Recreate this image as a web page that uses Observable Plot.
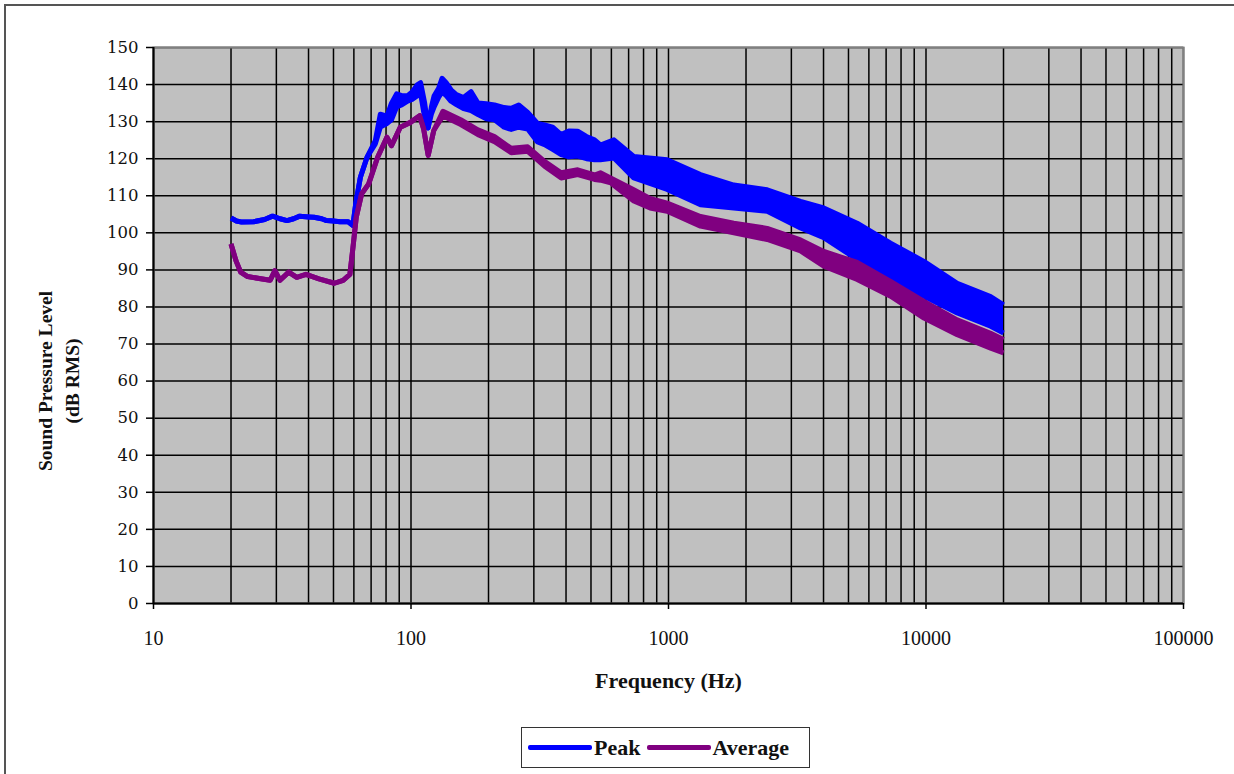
<!DOCTYPE html>
<html>
<head>
<meta charset="utf-8">
<script src="https://cdn.jsdelivr.net/npm/d3@7"></script>
<script src="https://cdn.jsdelivr.net/npm/@observablehq/plot@0.6"></script>
<style>
  html, body { margin: 0; padding: 0; background: #fff; overflow: hidden; }
  #wrap { position: relative; width: 1234px; height: 774px; }
  #border { position: absolute; left: 4px; top: 4px; width: 1400px; height: 900px; border-left: 2px solid #555; border-top: 2px solid #555; box-sizing: border-box; }
  #chart { position: absolute; left: 0; top: 0; }
  #ytitle { position: absolute; left: 59px; top: 381px; transform: translate(-50%, -50%) rotate(-90deg);
            white-space: nowrap; text-align: center; line-height: 27px; font-family: "Liberation Serif", serif; font-weight: bold; font-size: 19.5px; color: #111; }
  #legend { position: absolute; left: 521px; top: 727px; width: 289px; height: 41px; border: 1.5px solid #333; box-sizing: border-box; background: #fff;
            display: flex; align-items: center; font-family: "Liberation Serif", serif; font-weight: bold; font-size: 22px; color: #111; }
  .sw { display: inline-block; height: 5px; border-radius: 2px; }
</style>
</head>
<body>
<div id="wrap">
  <div id="border"></div>
  <div id="chart"></div>
  <div id="ytitle">Sound Pressure Level<br>(dB RMS)</div>
  <div id="legend">
    <span class="sw" style="width:64px;background:#0000FF;margin-left:6px"></span><span style="margin-left:2px">Peak</span>
    <span class="sw" style="width:64px;background:#800080;margin-left:7px"></span><span style="margin-left:1px">Average</span>
  </div>
</div>
<script>
// ---- Data ----
const peakFreq = [20, 21, 22, 24.5, 27, 29, 31, 33, 35, 37, 40, 42, 45, 47, 50, 53, 57, 59.5, 61, 63.6, 67.5, 72.7, 76, 80.6, 84, 88, 92, 97, 101, 106, 109, 113, 116.5, 120, 123, 128, 132, 137, 143, 150, 160, 171, 182, 196, 211, 230, 245, 262, 284, 310, 330, 355, 383, 410, 444, 480, 516, 544, 614, 733, 988, 1331, 1793, 2417, 3256, 4009, 5404, 7285, 9820, 13220, 17820, 20000];
const peakHigh = [104.0, 103.2, 102.9, 103.0, 103.6, 104.5, 103.8, 103.3, 103.8, 104.5, 104.3, 104.2, 103.8, 103.3, 103.2, 103.0, 103.0, 102.0, 107.8, 115.0, 120.4, 124.9, 132.0, 131.5, 135.0, 137.5, 137.0, 137.0, 138.0, 140.0, 140.5, 135.0, 128.3, 134.0, 137.0, 139.0, 141.7, 140.5, 138.6, 137.3, 136.5, 138.1, 135.0, 134.8, 134.5, 133.8, 133.6, 134.5, 132.5, 129.5, 129.1, 128.5, 126.5, 127.5, 127.4, 126.0, 125.1, 123.7, 125.1, 120.6, 119.7, 115.7, 112.9, 111.6, 108.5, 106.7, 102.6, 97.2, 92.3, 86.4, 82.8, 80.6];
const peakLow  = [104.0, 103.2, 102.9, 103.0, 103.6, 104.5, 103.8, 103.3, 103.8, 104.5, 104.3, 104.2, 103.8, 103.3, 103.2, 103.0, 103.0, 102.0, 107.8, 115.0, 120.4, 124.0, 128.5, 129.5, 130.5, 134.0, 134.5, 135.5, 136.0, 137.0, 137.5, 131.0, 128.3, 132.0, 134.0, 136.5, 138.0, 137.0, 135.5, 134.6, 133.5, 133.0, 131.9, 130.8, 130.5, 128.5, 127.9, 128.5, 128.0, 124.5, 123.8, 122.5, 121.1, 120.5, 120.7, 120.0, 119.7, 119.7, 120.2, 114.8, 111.7, 107.6, 106.7, 105.8, 101.3, 98.7, 92.8, 87.4, 82.9, 78.4, 74.8, 73.0];

const avgFreq = [20, 20.9, 21.8, 23.2, 26.1, 28.4, 29.6, 31, 33.5, 36, 39.1, 43.9, 50.4, 54.5, 57.9, 59.5, 61.3, 64.3, 68.5, 74.2, 80.6, 84, 90.9, 99.5, 108, 112, 116.6, 122.6, 133, 156, 182, 211, 245, 284, 330, 383, 444, 516, 544, 596, 733, 848, 988, 1331, 1793, 2417, 3256, 4009, 5404, 7285, 9820, 13220, 17820, 20000];
const avgHigh = [97.0, 92.5, 89.4, 88.2, 87.6, 87.2, 89.8, 87.2, 89.4, 88.0, 88.8, 87.6, 86.4, 87.2, 88.8, 96.0, 104.2, 110.5, 113.2, 120.4, 125.8, 123.5, 128.5, 129.8, 131.6, 128.0, 120.9, 127.6, 132.8, 130.5, 127.8, 126.0, 122.8, 123.2, 119.3, 116.2, 117.0, 115.6, 116.2, 114.8, 111.6, 109.3, 108.0, 104.4, 102.6, 101.2, 98.1, 95.0, 92.0, 86.9, 81.5, 76.5, 72.9, 71.2];
const avgLow  = [97.0, 92.5, 89.4, 88.2, 87.6, 87.2, 89.8, 87.2, 89.4, 88.0, 88.8, 87.6, 86.4, 87.2, 88.8, 96.0, 104.2, 110.5, 113.2, 120.4, 125.8, 123.5, 128.5, 129.8, 131.6, 128.0, 120.9, 127.6, 131.5, 129.2, 126.5, 124.6, 121.6, 122.0, 118.0, 114.8, 115.7, 114.4, 114.2, 113.5, 108.6, 106.7, 105.8, 101.8, 100.0, 98.2, 95.1, 91.0, 87.4, 82.9, 77.0, 72.5, 68.9, 67.6];

const xTickLabels = [10, 100, 1000, 10000, 100000];
const yTickLabels = [0, 10, 20, 30, 40, 50, 60, 70, 80, 90, 100, 110, 120, 130, 140, 150];
const xGridMultipliers = [1, 2, 3, 4, 5, 6, 7, 8, 9];

// ---- Build tables ----
const peak = peakFreq.map((f, i) => ({f, hi: peakHigh[i], lo: peakLow[i]}));
const avg = avgFreq.map((f, i) => ({f, hi: avgHigh[i], lo: avgLow[i]}));
const xGrid = [];
for (const d of xTickLabels.slice(0, -1)) for (const m of xGridMultipliers) xGrid.push(d * m);
xGrid.push(100000);

const BLUE = "#0000FF", PURPLE = "#800080";
const lineOpts = {strokeWidth: 5, strokeLinejoin: "round", strokeLinecap: "butt"};

const chart = Plot.plot({
  width: 1234,
  height: 724,
  marginTop: 47,
  marginLeft: 153,
  marginRight: 51,
  marginBottom: 121,
  style: {background: "transparent", overflow: "visible"},
  x: {type: "log", domain: [10, 100000]},
  y: {domain: [0, 150]},
  marks: [
    Plot.frame({fill: "#C0C0C0"}),
    Plot.ruleX(xGrid, {stroke: "#000", strokeWidth: 1.5}),
    Plot.ruleY(yTickLabels, {stroke: "#000", strokeWidth: 1.5}),
    // Peak
    Plot.areaY(peak, {x: "f", y1: "lo", y2: "hi", fill: BLUE}),
    Plot.line(peak, {x: "f", y: "hi", stroke: BLUE, ...lineOpts}),
    Plot.line(peak, {x: "f", y: "lo", stroke: BLUE, ...lineOpts}),
    // Average
    Plot.areaY(avg, {x: "f", y1: "lo", y2: "hi", fill: PURPLE}),
    Plot.line(avg, {x: "f", y: "hi", stroke: PURPLE, ...lineOpts}),
    Plot.line(avg, {x: "f", y: "lo", stroke: PURPLE, ...lineOpts}),
    // frame & axes
    Plot.frame({stroke: "#808080", strokeWidth: 2}),
    Plot.ruleX([10], {stroke: "#000", strokeWidth: 2}),
    Plot.ruleY([0], {stroke: "#000", strokeWidth: 2}),
    Plot.axisY({ticks: yTickLabels, tickSize: 7, tickPadding: 8, fontSize: 16.5, fontFamily: "DejaVu Serif", fill: "#111", stroke: "#000", strokeWidth: 1.5, label: null}),
    Plot.axisX({ticks: xTickLabels, tickFormat: d => String(d), tickSize: 6, tickPadding: 21, fontSize: 20, fontFamily: "Liberation Serif", fill: "#111", stroke: "#000", strokeWidth: 1.5, label: null}),
    Plot.text(["Frequency (Hz)"], {frameAnchor: "bottom", dy: 77, lineAnchor: "middle", fontSize: 22, fontWeight: "bold", fontFamily: "Liberation Serif", fill: "#111"})
  ]
});
document.getElementById("chart").appendChild(chart);
</script>
</body>
</html>
